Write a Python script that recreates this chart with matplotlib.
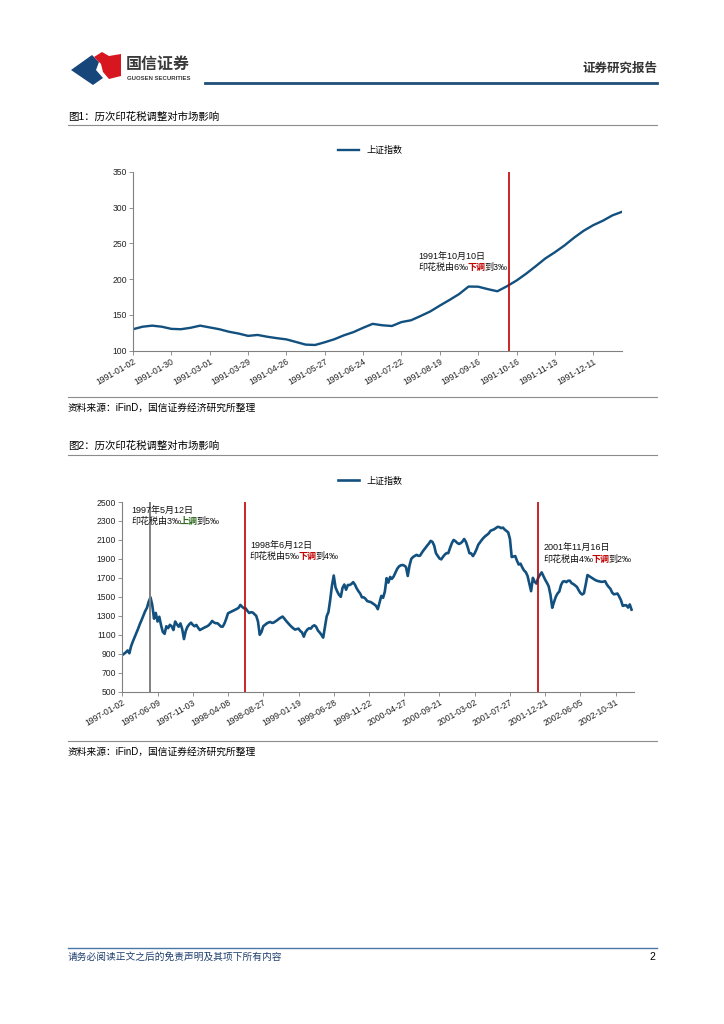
import numpy as np
import matplotlib.pyplot as plt
from matplotlib.patches import Polygon
from matplotlib.lines import Line2D
from matplotlib.offsetbox import TextArea, HPacker, AnnotationBbox

plt.rcParams['font.family'] = ['Liberation Sans', 'Noto Sans CJK SC', 'DejaVu Sans']

# ============================================================================
# DATA
# ============================================================================

# 上证指数 1991, one value every 5 trading days
sh1991_step = 5
sh1991 = [130, 133.5, 135, 133.5, 130.5, 130, 132, 135, 132.5, 130,
          126.5, 124, 120.7, 122, 119.5, 117.5, 115.8, 112.2, 108.5, 108,
          111.8, 116, 121.5, 126, 132, 137.5, 135.5, 134.5, 140, 142.5,
          148.5, 154.8, 163, 170.8, 179, 189.6, 189.4, 186, 183, 190,
          198, 207.5, 218, 228.8, 237.5, 247, 257.8, 267.5, 275.3, 281.5,
          289, 294]
ticks1991 = ['1991-01-02', '1991-01-30', '1991-03-01', '1991-03-29', '1991-04-26',
             '1991-05-27', '1991-06-24', '1991-07-22', '1991-08-19', '1991-09-16',
             '1991-10-16', '1991-11-13', '1991-12-11']
tick_every1 = 20
event1991 = 196          # trading day of 1991-10-10

# 上证指数 1997-2002, one value every 5 trading days
sh9702_step = 5
sh9702 = [887, 900, 915, 935, 905, 980, 1030, 1075, 1120, 1165,
          1215, 1258, 1305, 1350, 1385, 1450, 1495, 1415, 1270, 1330,
          1240, 1290, 1200, 1130, 1110, 1190, 1170, 1205, 1190, 1150,
          1240, 1210, 1185, 1220, 1160, 1055, 1140, 1185, 1210, 1228,
          1205, 1190, 1204, 1175, 1150, 1160, 1170, 1180, 1188, 1200,
          1220, 1246, 1230, 1222, 1222, 1205, 1186, 1186, 1220, 1270,
          1327, 1336, 1345, 1355, 1364, 1373, 1385, 1415, 1395, 1380,
          1378, 1352, 1330, 1338, 1335, 1318, 1300, 1240, 1100, 1130,
          1190, 1205, 1220, 1230, 1235, 1225, 1230, 1242, 1255, 1270,
          1282, 1292, 1270, 1246, 1225, 1204, 1185, 1169, 1155, 1160,
          1165, 1140, 1125, 1080, 1130, 1155, 1169, 1165, 1190, 1200,
          1185, 1145, 1125, 1100, 1070, 1186, 1295, 1340, 1470, 1620,
          1725, 1600, 1556, 1521, 1500, 1595, 1630, 1575, 1625, 1625,
          1635, 1655, 1630, 1590, 1560, 1535, 1495, 1495, 1480, 1455,
          1450, 1445, 1433, 1420, 1405, 1370, 1440, 1510, 1490, 1556,
          1697, 1650, 1710, 1690, 1715, 1755, 1795, 1820, 1832, 1836,
          1830, 1815, 1720, 1830, 1900, 1920, 1932, 1943, 1932, 1935,
          1965, 1992, 2015, 2040, 2062, 2090, 2080, 2040, 1960, 1932,
          1905, 1895, 1922, 1945, 1961, 1961, 2015, 2065, 2100, 2088,
          2070, 2058, 2065, 2082, 2110, 2080, 2025, 1960, 1958, 1930,
          1960, 2000, 2049, 2075, 2100, 2122, 2140, 2154, 2170, 2197,
          2204, 2212, 2225, 2238, 2235, 2225, 2230, 2210, 2195, 2180,
          2110, 1920, 1925, 1930, 1880, 1840, 1850, 1810, 1778, 1760,
          1720, 1640, 1560, 1700, 1660, 1640, 1700, 1732, 1758, 1720,
          1680, 1648, 1610, 1521, 1385, 1445, 1500, 1535, 1556, 1625,
          1660, 1665, 1655, 1670, 1670, 1644, 1635, 1620, 1605, 1570,
          1540, 1525, 1538, 1630, 1730, 1718, 1705, 1695, 1682, 1672,
          1666, 1662, 1658, 1660, 1665, 1630, 1605, 1585, 1545, 1527,
          1530, 1535, 1503, 1465, 1405, 1410, 1412, 1387, 1420, 1365]
ticks9702 = ['1997-01-02', '1997-06-09', '1997-11-03', '1998-04-08', '1998-08-27',
             '1999-01-19', '1999-06-28', '1999-11-22', '2000-04-27', '2000-09-21',
             '2001-03-02', '2001-07-27', '2001-12-21', '2002-06-05', '2002-10-31']
tick_every2 = 100
events9702 = [80, 348, 1179]     # 1997-05-12, 1998-06-12, 2001-11-16
event_colors = ['#808080', '#C00000', '#C00000']

LINE_BLUE = '#12507F'
RED = '#C00000'
GREEN = '#2E6B1E'

# ============================================================================
# PAGE LAYOUT HELPERS (pixel -> figure fraction)
# ============================================================================
W, H = 724, 1024


def fx(px):
    return px / W


def fy(py):
    return 1 - py / H


fig = plt.figure(figsize=(7.24, 10.24), dpi=100)


def hline(y, x0=68, x1=657, color='#8c8c8c', lw=0.8):
    fig.add_artist(Line2D([fx(x0), fx(x1)], [fy(y), fy(y)], color=color, lw=lw,
                          transform=fig.transFigure))


# header logo
blue_logo = [(71, 70), (92, 55), (99, 62), (96, 70), (103, 78), (93, 85)]
red_logo = [(94, 57), (102, 52), (109, 56), (121, 54), (121, 76), (109, 79), (103, 72), (101, 64)]
fig.add_artist(Polygon([(fx(a), fy(b)) for a, b in blue_logo], closed=True,
                       transform=fig.transFigure, color='#17467A', lw=0))
fig.add_artist(Polygon([(fx(a), fy(b)) for a, b in red_logo], closed=True,
                       transform=fig.transFigure, color='#D7161F', lw=0))
fig.text(fx(126), fy(64), '国信证券', fontsize=11.5, fontweight='bold', color='#3a3a3a',
         ha='left', va='center')
fig.text(fx(127), fy(78), 'GUOSEN SECURITIES', fontsize=4.3, fontweight='bold', color='#3a3a3a',
         ha='left', va='center')
fig.text(fx(657), fy(69), '证券研究报告', fontsize=9, fontweight='bold', color='#333333',
         ha='right', va='center')
hline(83, x0=205, color='#1F4E79', lw=2)

# section titles / sources / rules
fig.text(fx(68), fy(117), '图1：历次印花税调整对市场影响', fontsize=7.5, ha='left', va='center')
hline(125)
hline(397)
fig.text(fx(68), fy(408), '资料来源：iFinD，国信证券经济研究所整理', fontsize=7, ha='left', va='center')

fig.text(fx(68), fy(446), '图2：历次印花税调整对市场影响', fontsize=7.5, ha='left', va='center')
hline(455)
hline(741)
fig.text(fx(68), fy(752), '资料来源：iFinD，国信证券经济研究所整理', fontsize=7, ha='left', va='center')

# footer
hline(948, color='#4A78A8', lw=1)
fig.text(fx(68), fy(957), '请务必阅读正文之后的免责声明及其项下所有内容', fontsize=7,
         color='#1F3F6E', style='italic', ha='left', va='center')
fig.text(fx(655), fy(957), '2', fontsize=7.5, ha='right', va='center')


# ============================================================================
# CHART HELPERS
# ============================================================================

def style_axis(ax):
    for s in ['top', 'right']:
        ax.spines[s].set_visible(False)
    for s in ['left', 'bottom']:
        ax.spines[s].set_color('#808080')
        ax.spines[s].set_linewidth(0.8)
    ax.tick_params(axis='both', labelsize=6.2, length=3, width=0.6, color='#808080',
                   direction='out', labelcolor='#222222')
    ax.tick_params(axis='x', pad=1.5)
    ax.tick_params(axis='y', pad=1.5)


def rich_text(ax, x, y, parts, size=6.5):
    boxes = [TextArea(t, textprops=dict(color=c, fontsize=size, fontweight=w)) for t, c, w in parts]
    pack = HPacker(children=boxes, align='baseline', pad=0, sep=-1)
    ab = AnnotationBbox(pack, (x, y), xycoords='data', box_alignment=(0, 0.5),
                        frameon=False, pad=0, annotation_clip=False)
    ax.add_artist(ab)


# ============================================================================
# CHART 1
# ============================================================================
ax1 = fig.add_axes([fx(133), fy(350.7), (622 - 133) / W, (350.7 - 171.7) / H])
x1 = np.arange(len(sh1991)) * sh1991_step
ax1.plot(x1, sh1991, color=LINE_BLUE, lw=1.7, label='上证指数')
ax1.axvline(event1991, color=RED, lw=1.2)
ax1.set_xlim(0, x1[-1])
ax1.set_ylim(100, 350)
ax1.set_yticks(range(100, 351, 50))
ax1.set_xticks(np.arange(len(ticks1991)) * tick_every1)
ax1.set_xticklabels(ticks1991, rotation=30, ha='right', rotation_mode='anchor')
style_axis(ax1)
ax1.legend(loc='center', bbox_to_anchor=(0.485, 1.116), frameon=False, fontsize=6.5,
           handlelength=2.4, borderpad=0)

rich_text(ax1, 149, 231.5, [('1991年10月10日', '#111111', 'normal')])
rich_text(ax1, 149, 216, [('印花税由6‰', '#111111', 'normal'), ('下调', RED, 'bold'),
                          ('到3‰', '#111111', 'normal')])

# ============================================================================
# CHART 2
# ============================================================================
ax2 = fig.add_axes([fx(122.3), fy(691.7), (634 - 122.3) / W, (691.7 - 502) / H])
x2 = np.arange(len(sh9702)) * sh9702_step
ax2.plot(x2, sh9702, color=LINE_BLUE, lw=1.9, label='上证指数')
for d, c in zip(events9702, event_colors):
    ax2.axvline(d, color=c, lw=1.4 if c == '#808080' else 1.2)
ax2.set_xlim(0, 1452)
ax2.set_ylim(500, 2500)
ax2.set_yticks(range(500, 2501, 200))
ax2.set_xticks(np.arange(len(ticks9702)) * tick_every2)
ax2.set_xticklabels(ticks9702, rotation=30, ha='right', rotation_mode='anchor')
style_axis(ax2)
ax2.legend(loc='center', bbox_to_anchor=(0.484, 1.11), frameon=False, fontsize=6.5,
           handlelength=2.4, borderpad=0)

rich_text(ax2, 25, 2416, [('1997年5月12日', '#111111', 'normal')])
rich_text(ax2, 25, 2292, [('印花税由3‰', '#111111', 'normal'), ('上调', GREEN, 'bold'),
                          ('到5‰', '#111111', 'normal')])
rich_text(ax2, 362, 2047, [('1998年6月12日', '#111111', 'normal')])
rich_text(ax2, 362, 1923, [('印花税由5‰', '#111111', 'normal'), ('下调', RED, 'bold'),
                           ('到4‰', '#111111', 'normal')])
rich_text(ax2, 1194, 2022, [('2001年11月16日', '#111111', 'normal')])
rich_text(ax2, 1194, 1896, [('印花税由4‰', '#111111', 'normal'), ('下调', RED, 'bold'),
                            ('到2‰', '#111111', 'normal')])

fig.savefig('out.png', dpi=100)
